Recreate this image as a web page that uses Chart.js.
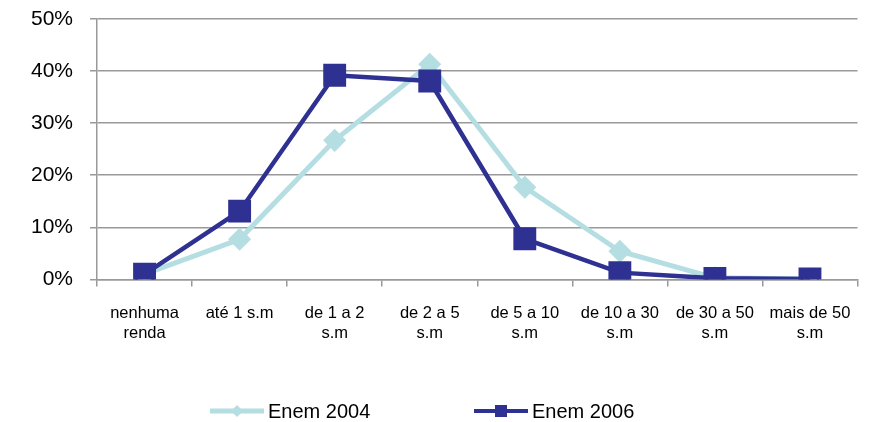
<!DOCTYPE html>
<html>
<head>
<meta charset="utf-8">
<script src="https://cdn.jsdelivr.net/npm/chart.js@4.4.0/dist/chart.umd.min.js"></script>
<style>
  html, body { margin: 0; padding: 0; background: #fff; }
  #wrap { width: 875px; height: 422px; }
</style>
</head>
<body>
<div id="wrap"><canvas id="lineChart"></canvas></div>
<script>
let categories = [
  ["nenhuma", "renda"],
  "até 1 s.m",
  ["de 1 a 2", "s.m"],
  ["de 2 a 5", "s.m"],
  ["de 5 a 10", "s.m"],
  ["de 10 a 30", "s.m"],
  ["de 30 a 50", "s.m"],
  ["mais de 50", "s.m"],
];
let enem2004 = [1.0, 7.7, 26.7, 41.3, 17.7, 5.4, 0.3, 0.1];
let enem2006 = [1.0, 13.1, 39.2, 38.1, 7.8, 1.3, 0.2, 0.1];
let yTicks = [0, 10, 20, 30, 40, 50];

let lightColor = "rgb(180, 222, 226)";
let darkColor = "rgb(46, 49, 146)";
let fontFamily = "'Liberation Sans', Arial, sans-serif";

// legend drawn by hand: line with marker in the middle, like the original
let legendPlugin = {
  id: "lineLegend",
  afterDraw(chart) {
    let c = chart.ctx;
    let items = [
      { label: "Enem 2004", color: lightColor, width: 5, style: "diamond", x: 210 },
      { label: "Enem 2006", color: darkColor, width: 4, style: "square", x: 474 },
    ];
    let y = 411;
    c.save();
    items.forEach((it) => {
      c.strokeStyle = it.color;
      c.lineWidth = it.width;
      c.beginPath();
      c.moveTo(it.x, y);
      c.lineTo(it.x + 54, y);
      c.stroke();
      c.fillStyle = it.color;
      let mx = it.x + 27;
      if (it.style === "square") {
        c.fillRect(mx - 6, y - 6, 12, 12);
      } else {
        c.beginPath();
        c.moveTo(mx, y - 6);
        c.lineTo(mx + 6, y);
        c.lineTo(mx, y + 6);
        c.lineTo(mx - 6, y);
        c.closePath();
        c.fill();
      }
      c.fillStyle = "#000";
      c.font = "20px " + fontFamily;
      c.textBaseline = "middle";
      c.textAlign = "left";
      c.fillText(it.label, it.x + 58, y + 1);
    });
    c.restore();
  },
};

let ctx = document.getElementById("lineChart").getContext("2d");
let myChart = new Chart(ctx, {
  type: "line",
  data: {
    labels: categories,
    datasets: [
      {
        label: "Enem 2004",
        data: enem2004,
        borderColor: lightColor,
        backgroundColor: lightColor,
        borderWidth: 5,
        pointStyle: "rectRot",
        pointRadius: 8,
        pointHoverRadius: 8,
        tension: 0,
        order: 1,
      },
      {
        label: "Enem 2006",
        data: enem2006,
        borderColor: darkColor,
        backgroundColor: darkColor,
        borderWidth: 4.5,
        pointStyle: "rect",
        pointRadius: 13,
        pointHoverRadius: 13,
        tension: 0,
        order: 0,
      },
    ],
  },
  options: {
    responsive: true,
    maintainAspectRatio: false,
    animation: false,
    layout: { padding: { top: 0, right: 0, left: 14, bottom: 62 } },
    plugins: {
      legend: { display: false },
      tooltip: { enabled: false },
    },
    scales: {
      x: {
        offset: true,
        afterFit: (axis) => {
          axis.paddingRight = 14;
        },
        grid: {
          offset: true,
          drawOnChartArea: false,
          tickLength: 7,
          color: "#999",
          lineWidth: 1.5,
        },
        border: { color: "#999", width: 1.5 },
        ticks: {
          autoSkip: false,
          maxRotation: 0,
          minRotation: 0,
          padding: 17,
          color: "#000",
          font: { family: fontFamily, size: 16.5, lineHeight: 1.2 },
        },
      },
      y: {
        min: 0,
        max: 50,
        afterBuildTicks: (axis) => {
          axis.ticks = yTicks.map((v) => ({ value: v }));
        },
        afterFit: (axis) => {
          axis.paddingTop = 19;
        },
        grid: {
          color: "#999",
          lineWidth: 1.5,
          tickLength: 7,
        },
        border: { color: "#999", width: 1.5 },
        ticks: {
          padding: 17,
          color: "#000",
          font: { family: fontFamily, size: 21 },
          callback: (v) => v + "%",
        },
      },
    },
  },
  plugins: [legendPlugin],
});
</script>
</body>
</html>
